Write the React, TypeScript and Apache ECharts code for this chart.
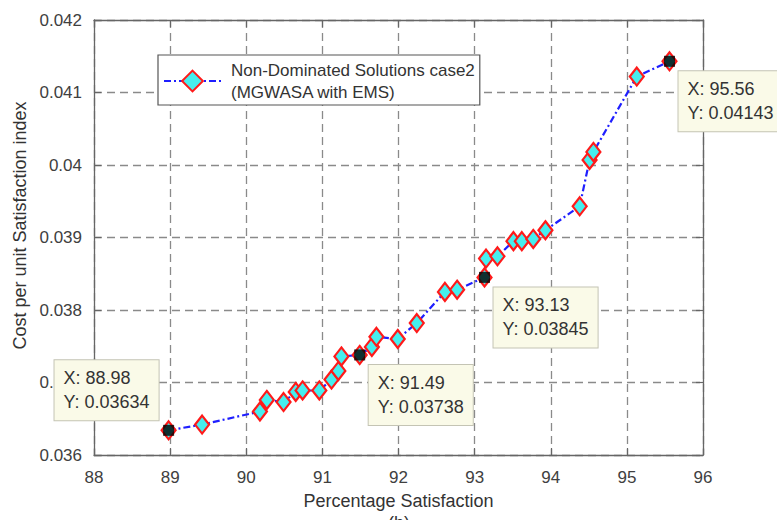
import React, { useEffect, useRef } from "react";
import * as echarts from "echarts";

// Pareto front: percentage satisfaction vs. cost per unit satisfaction index
const satisfaction = [
  88.98, 89.42, 90.18, 90.27, 90.49, 90.65, 90.74, 90.96, 91.12, 91.21,
  91.25, 91.49, 91.65, 91.71, 91.99, 92.24, 92.61, 92.77, 93.13, 93.15,
  93.3, 93.51, 93.62, 93.77, 93.93, 94.38, 94.51, 94.56, 95.13, 95.56,
];
const costIndex = [
  0.03634, 0.03642, 0.0366, 0.03676, 0.03673, 0.03687, 0.03689, 0.03689, 0.03704, 0.03716,
  0.03736, 0.03738, 0.03749, 0.03763, 0.0376, 0.03782, 0.03825, 0.03828, 0.03845, 0.03871,
  0.03874, 0.03895, 0.03895, 0.03898, 0.0391, 0.03943, 0.04007, 0.04018, 0.04122, 0.04143,
];

// Highlighted solutions with data tips
const tipX = [88.98, 91.49, 93.13, 95.56];
const tipY = [0.03634, 0.03738, 0.03845, 0.04143];
// which side of the marker each tip box sits on
const tipSide = ["upLeft", "downRight", "downRight", "downRight"];

const xTicks = { min: 88, max: 96, step: 1 };
const yTicks = { min: 0.036, max: 0.042, step: 0.001 };

const seriesName = "Non-Dominated Solutions case2\n(MGWASA with EMS)";
const xTitle = "Percentage Satisfaction";
const yTitle = "Cost per unit Satisfaction index";
const panelTag = "(b)";

const FONT = "'Liberation Sans', Arial, Helvetica, sans-serif";
const AXIS_COLOR = "#666666";
const TIP_FONT = `18px ${FONT}`;
const TIP_PAD_X = 9;

// width of the widest line of a multi-line string
function textWidth(text: string, font: string): number {
  const ctx = document.createElement("canvas").getContext("2d");
  if (!ctx) return 0;
  ctx.font = font;
  return Math.max(...text.split("\n").map((line) => ctx.measureText(line).width));
}

export default function App() {
  const ref = useRef<HTMLDivElement>(null);

  useEffect(() => {
    if (!ref.current) return;
    const chart = echarts.init(ref.current, undefined, { renderer: "svg" });

    const frameAxis = {
      type: "value" as const,
      z: 0,
      axisLine: { show: true, onZero: false, lineStyle: { color: AXIS_COLOR, width: 1.3 } },
      axisTick: { show: true, inside: true, length: 7, lineStyle: { color: AXIS_COLOR, width: 1.2 } },
    };

    chart.setOption({
      animation: false,
      backgroundColor: "#ffffff",
      textStyle: { fontFamily: FONT },
      grid: { left: 94, right: 74, top: 20, bottom: 65 },
      legend: {
        data: [seriesName],
        left: 158,
        top: 55,
        orient: "vertical",
        backgroundColor: "#ffffff",
        borderColor: "#555555",
        borderWidth: 1.2,
        borderRadius: 0,
        padding: [4, 5, 2, 5],
        itemWidth: 57,
        itemHeight: 26,
        textStyle: {
          fontFamily: FONT,
          fontSize: 17,
          lineHeight: 22,
          color: "#333333",
          padding: [0, 0, 0, 5],
        },
      },
      xAxis: [
        {
          ...frameAxis,
          position: "bottom",
          min: xTicks.min,
          max: xTicks.max,
          interval: xTicks.step,
          name: xTitle,
          nameLocation: "middle",
          nameGap: 37,
          nameTextStyle: { fontFamily: FONT, fontSize: 18, color: "#333333" },
          axisLabel: { fontFamily: FONT, fontSize: 17, color: "#404040", margin: 14 },
          splitLine: { show: true, lineStyle: { color: "#8a8a8a", type: [8, 5], width: 1.3 } },
        },
        {
          ...frameAxis,
          position: "top",
          min: xTicks.min,
          max: xTicks.max,
          interval: xTicks.step,
          axisLabel: { show: false },
          splitLine: { show: false },
        },
      ],
      yAxis: [
        {
          ...frameAxis,
          position: "left",
          min: yTicks.min,
          max: yTicks.max,
          interval: yTicks.step,
          name: yTitle,
          nameLocation: "middle",
          nameRotate: 90,
          nameGap: 64,
          nameTextStyle: { fontFamily: FONT, fontSize: 18, color: "#333333", padding: [0, 0, 0, 24] },
          axisLabel: { fontFamily: FONT, fontSize: 17, color: "#404040", margin: 12 },
          splitLine: { show: true, lineStyle: { color: "#8a8a8a", type: [8, 5], width: 1.3 } },
        },
        {
          ...frameAxis,
          position: "right",
          min: yTicks.min,
          max: yTicks.max,
          interval: yTicks.step,
          axisLabel: { show: false },
          splitLine: { show: false },
        },
      ],
      series: [
        {
          name: seriesName,
          type: "line",
          xAxisIndex: 0,
          yAxisIndex: 0,
          data: satisfaction.map((x, i) => [x, costIndex[i]]),
          symbol: "diamond",
          symbolSize: [14, 18],
          showAllSymbol: true,
          lineStyle: { color: "#1f1fff", width: 2.2, type: [7, 3, 2, 3] },
          itemStyle: { color: "#46eeee", borderColor: "#ff1a1a", borderWidth: 2.2 },
          z: 3,
        },
        {
          name: "tips",
          type: "scatter",
          xAxisIndex: 0,
          yAxisIndex: 0,
          data: tipX.map((x, i) => [x, tipY[i]]),
          symbol: "rect",
          symbolSize: 11,
          itemStyle: { color: "#000000" },
          z: 5,
        },
      ],
    });

    // Data-tip boxes, anchored to the highlighted points through the axes' scales
    const tipBoxes = tipX.map((x, i) => {
      const [px, py] = chart.convertToPixel({ gridIndex: 0 }, [x, tipY[i]]) as number[];
      const upLeft = tipSide[i] === "upLeft";
      const text = `X: ${x.toFixed(2)}\nY: ${tipY[i].toFixed(5)}`;
      const boxW = textWidth(text, TIP_FONT) + 2 * TIP_PAD_X;
      return {
        type: "text",
        x: upLeft ? px - 10 - boxW : px + 9,
        y: upLeft ? py - 10 : py + 10,
        z: 100,
        zlevel: 2,
        style: {
          text,
          font: TIP_FONT,
          lineHeight: 24,
          fill: "#333333",
          align: "left",
          verticalAlign: upLeft ? "bottom" : "top",
          backgroundColor: "#fafae8",
          borderColor: "#c4c4b4",
          borderWidth: 1,
          padding: [6, TIP_PAD_X, 6, TIP_PAD_X],
        },
      };
    });

    chart.setOption({
      graphic: [
        {
          type: "text",
          left: 388,
          top: 514,
          style: { text: panelTag, font: `18px ${FONT}`, fill: "#333333" },
        },
        ...tipBoxes,
      ],
    });

    return () => chart.dispose();
  }, []);

  return (
    <div
      ref={ref}
      style={{ position: "fixed", left: 0, top: 0, width: 777, height: 520, background: "#fff" }}
    />
  );
}
